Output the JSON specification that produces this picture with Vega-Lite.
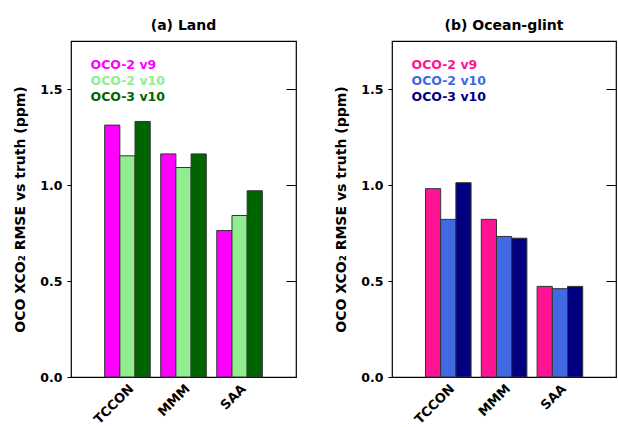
{
  "$schema": "https://vega.github.io/schema/vega-lite/v6.json",
  "padding": {"left": 13, "top": 18, "right": 0, "bottom": 0},
  "background": "white",
  "spacing": 36,
  "config": {
    "font": "DejaVu Sans",
    "view": {"stroke": "#000", "strokeWidth": 1.2},
    "title": {"font": "DejaVu Sans", "fontSize": 14, "fontWeight": "bold", "color": "#000", "offset": 8},
    "axis": {"labelFont": "DejaVu Sans", "titleFont": "DejaVu Sans", "labelFontWeight": "bold", "titleFontWeight": "bold", "labelFontSize": 12.5, "titleFontSize": 14, "labelColor": "#000", "titleColor": "#000", "grid": false, "domain": false, "tickColor": "#000"},
    "legend": {"labelFont": "DejaVu Sans", "labelFontWeight": "bold", "labelFontSize": 12.5}
  },
  "resolve": {"scale": {"color": "independent"}},
  "hconcat": [
    {
      "title": "(a) Land",
      "width": 225,
      "height": 336,
      "data": {"values": [
        {"site": "TCCON", "version": "OCO-2 v9", "rmse": 1.312},
        {"site": "TCCON", "version": "OCO-2 v10", "rmse": 1.152},
        {"site": "TCCON", "version": "OCO-3 v10", "rmse": 1.331},
        {"site": "MMM", "version": "OCO-2 v9", "rmse": 1.162},
        {"site": "MMM", "version": "OCO-2 v10", "rmse": 1.091},
        {"site": "MMM", "version": "OCO-3 v10", "rmse": 1.162},
        {"site": "SAA", "version": "OCO-2 v9", "rmse": 0.763},
        {"site": "SAA", "version": "OCO-2 v10", "rmse": 0.841},
        {"site": "SAA", "version": "OCO-3 v10", "rmse": 0.970}
      ]},
      "resolve": {"axis": {"y": "independent"}},
      "layer": [
        {
          "mark": {"type": "bar", "stroke": "#333", "strokeWidth": 1},
          "encoding": {
            "x": {"field": "site", "type": "nominal", "sort": ["TCCON", "MMM", "SAA"], "scale": {"paddingInner": 0.187, "paddingOuter": 0.6}, "axis": {"title": null, "ticks": false, "labelAngle": -45, "labelPadding": 5, "labelDx": 13, "labelFontSize": 13}},
            "xOffset": {"field": "version", "type": "nominal", "sort": ["OCO-2 v9", "OCO-2 v10", "OCO-3 v10"], "scale": {"paddingInner": 0, "paddingOuter": 0}},
            "y": {"field": "rmse", "type": "quantitative", "scale": {"domain": [0, 1.75], "nice": false}, "axis": {"title": "OCO XCO₂ RMSE vs truth (ppm)", "values": [0, 0.5, 1, 1.5], "format": ".1f", "tickSize": 4, "labelPadding": 5, "titlePadding": 12}},
            "color": {"field": "version", "type": "nominal", "scale": {"domain": ["OCO-2 v9", "OCO-2 v10", "OCO-3 v10"], "range": ["#ff00ff", "#90ee90", "#006400"]}, "legend": {"title": null, "orient": "none", "legendX": 7, "legendY": 18, "symbolSize": 0, "symbolStrokeWidth": 0, "labelOffset": 0, "rowPadding": 3, "padding": 0, "labelColor": {"expr": "datum.value === 'OCO-2 v9' ? '#ff00ff' : datum.value === 'OCO-2 v10' ? '#90ee90' : '#006400'"}}}
          }
        },
        {
          "mark": {"type": "bar", "opacity": 0},
          "encoding": {
            "x": {"field": "site", "type": "nominal", "sort": ["TCCON", "MMM", "SAA"]},
            "xOffset": {"field": "version", "type": "nominal", "sort": ["OCO-2 v9", "OCO-2 v10", "OCO-3 v10"]},
            "y": {"field": "rmse", "type": "quantitative", "axis": {"orient": "right", "title": null, "labels": false, "values": [0, 0.5, 1, 1.5], "tickSize": -10}}
          }
        }
      ]
    },
    {
      "title": "(b) Ocean-glint",
      "width": 224,
      "height": 336,
      "data": {"values": [
        {"site": "TCCON", "version": "OCO-2 v9", "rmse": 0.981},
        {"site": "TCCON", "version": "OCO-2 v10", "rmse": 0.821},
        {"site": "TCCON", "version": "OCO-3 v10", "rmse": 1.012},
        {"site": "MMM", "version": "OCO-2 v9", "rmse": 0.821},
        {"site": "MMM", "version": "OCO-2 v10", "rmse": 0.732},
        {"site": "MMM", "version": "OCO-3 v10", "rmse": 0.723},
        {"site": "SAA", "version": "OCO-2 v9", "rmse": 0.472},
        {"site": "SAA", "version": "OCO-2 v10", "rmse": 0.460},
        {"site": "SAA", "version": "OCO-3 v10", "rmse": 0.472}
      ]},
      "resolve": {"axis": {"y": "independent"}},
      "layer": [
        {
          "mark": {"type": "bar", "stroke": "#333", "strokeWidth": 1},
          "encoding": {
            "x": {"field": "site", "type": "nominal", "sort": ["TCCON", "MMM", "SAA"], "scale": {"paddingInner": 0.187, "paddingOuter": 0.6}, "axis": {"title": null, "ticks": false, "labelAngle": -45, "labelPadding": 5, "labelDx": 13, "labelFontSize": 13}},
            "xOffset": {"field": "version", "type": "nominal", "sort": ["OCO-2 v9", "OCO-2 v10", "OCO-3 v10"], "scale": {"paddingInner": 0, "paddingOuter": 0}},
            "y": {"field": "rmse", "type": "quantitative", "scale": {"domain": [0, 1.75], "nice": false}, "axis": {"title": "OCO XCO₂ RMSE vs truth (ppm)", "values": [0, 0.5, 1, 1.5], "format": ".1f", "tickSize": 4, "labelPadding": 5, "titlePadding": 12}},
            "color": {"field": "version", "type": "nominal", "scale": {"domain": ["OCO-2 v9", "OCO-2 v10", "OCO-3 v10"], "range": ["#ff1493", "#4169e1", "#000080"]}, "legend": {"title": null, "orient": "none", "legendX": 7, "legendY": 18, "symbolSize": 0, "symbolStrokeWidth": 0, "labelOffset": 0, "rowPadding": 3, "padding": 0, "labelColor": {"expr": "datum.value === 'OCO-2 v9' ? '#ff1493' : datum.value === 'OCO-2 v10' ? '#4169e1' : '#000080'"}}}
          }
        },
        {
          "mark": {"type": "bar", "opacity": 0},
          "encoding": {
            "x": {"field": "site", "type": "nominal", "sort": ["TCCON", "MMM", "SAA"]},
            "xOffset": {"field": "version", "type": "nominal", "sort": ["OCO-2 v9", "OCO-2 v10", "OCO-3 v10"]},
            "y": {"field": "rmse", "type": "quantitative", "axis": {"orient": "right", "title": null, "labels": false, "values": [0, 0.5, 1, 1.5], "tickSize": -10}}
          }
        }
      ]
    }
  ]
}
